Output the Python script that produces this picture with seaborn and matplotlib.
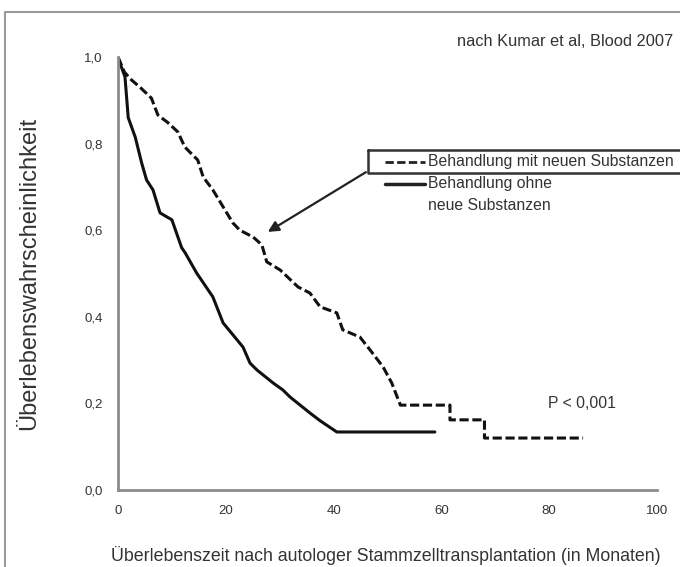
import matplotlib
matplotlib.use("Agg")
import matplotlib.pyplot as plt
import seaborn as sns
import pandas as pd
from matplotlib.lines import Line2D

# Kaplan-Meier Kurven (Eckpunkte)
time_new = [0, 1.2, 2.5, 4.1, 6.2, 7.4, 9.3, 11.1, 12.4, 14.8, 15.8, 17.6, 19.5,
            21.3, 22.6, 25.1, 26.7, 27.6, 30.1, 33.4, 35.6, 37.5, 40.6, 41.7,
            44.9, 46.8, 49.2, 50.8, 51.8, 52.4, 61.6, 61.6, 68.0, 68.0, 86.3]
surv_new = [1.0, 0.965, 0.947, 0.93, 0.905, 0.866, 0.848, 0.827, 0.792, 0.762,
            0.723, 0.693, 0.654, 0.617, 0.60, 0.584, 0.566, 0.527, 0.508, 0.469,
            0.455, 0.423, 0.409, 0.37, 0.353, 0.323, 0.284, 0.247, 0.215, 0.196,
            0.196, 0.162, 0.162, 0.12, 0.12]

time_old = [0, 0.4, 1.3, 1.9, 3.2, 4.4, 5.3, 6.5, 7.8, 10.0, 11.8, 12.5, 14.6,
            17.6, 19.5, 23.2, 24.5, 25.8, 28.8, 30.6, 31.9, 35.6, 37.5, 40.6, 58.8]
surv_old = [1.0, 0.985, 0.954, 0.86, 0.815, 0.755, 0.716, 0.693, 0.64, 0.624,
            0.56, 0.547, 0.501, 0.446, 0.386, 0.33, 0.293, 0.277, 0.247, 0.231,
            0.215, 0.178, 0.16, 0.134, 0.134]

y_ticks = [0.0, 0.2, 0.4, 0.6, 0.8, 1.0]
y_ticklabels = ["0,0", "0,2", "0,4", "0,6", "0,8", "1,0"]
x_ticks = [0, 20, 40, 60, 80, 100]

df_new = pd.DataFrame({"t": time_new, "s": surv_new})
df_old = pd.DataFrame({"t": time_old, "s": surv_old})

sns.set_style("white")
plt.rcParams["font.family"] = ["Liberation Sans", "DejaVu Sans"]

txt = "#333333"
axis_col = "#8c8c8c"

fig = plt.figure(figsize=(6.8, 5.67), dpi=100)
ax = fig.add_axes([0.1735, 0.1358, 0.7926, 0.7637])

sns.lineplot(data=df_new, x="t", y="s", ax=ax, color="#111111", lw=2.2,
             linestyle=(0, (3, 1.2)), sort=False, estimator=None)
sns.lineplot(data=df_old, x="t", y="s", ax=ax, color="#111111", lw=2.2,
             sort=False, estimator=None)

ax.set_xlim(0, 100)
ax.set_ylim(0, 1.0)
ax.set_xticks(x_ticks)
ax.set_xticklabels([str(v) for v in x_ticks])
ax.set_yticks(y_ticks)
ax.set_yticklabels(y_ticklabels)
ax.tick_params(axis="both", direction="out", length=6, width=1.5, color=axis_col,
               labelsize=9.5, labelcolor=txt, pad=5)
for side in ["top", "right"]:
    ax.spines[side].set_visible(False)
for side in ["left", "bottom"]:
    ax.spines[side].set_color(axis_col)
    ax.spines[side].set_linewidth(2)

ax.set_xlabel("Überlebenszeit nach autologer Stammzelltransplantation (in Monaten)",
              fontsize=12.8, color=txt)
ax.set_ylabel("Überlebenswahrscheinlichkeit", fontsize=17, color=txt)
ax.xaxis.set_label_coords(0.497, -0.129)
ax.yaxis.set_label_coords(-0.145, 0.5)

ax.text(86, 0.2, "P < 0,001", fontsize=11.3, color=txt, ha="center", va="center")

# Pfeil von der Legende zur Kurve
ax.annotate("", xy=(27.8, 0.596), xytext=(46.0, 0.734),
            arrowprops=dict(arrowstyle="-|>", color="#222222", lw=1.6,
                            mutation_scale=16, shrinkA=0, shrinkB=0))

# Legende (manuell)
fig.add_artist(Line2D([0.541, 1.01, 1.01, 0.541, 0.541],
                      [0.7354, 0.7354, 0.6949, 0.6949, 0.7354],
                      transform=fig.transFigure, color="#333333", lw=1.8))
fig.add_artist(Line2D([0.566, 0.625], [0.7143, 0.7143], transform=fig.transFigure,
                      color="#222222", lw=2, linestyle=(0, (3, 1.2))))
fig.add_artist(Line2D([0.566, 0.625], [0.6755, 0.6755], transform=fig.transFigure,
                      color="#222222", lw=2.5))
fig.text(0.630, 0.7143, "Behandlung mit neuen Substanzen", fontsize=11.3,
         color=txt, va="center")
fig.text(0.630, 0.6755, "Behandlung ohne", fontsize=11.3, color=txt, va="center")
fig.text(0.630, 0.638, "neue Substanzen", fontsize=11.3, color=txt, va="center")

fig.text(0.99, 0.926, "nach Kumar et al, Blood 2007", fontsize=11.8, color="#333333",
         ha="right", va="center")

# Rahmen
fig.add_artist(Line2D([0.0074, 0.0074, 1.0], [0.0, 0.979, 0.979],
                      transform=fig.transFigure, color="#9a9a9a", lw=1.5))

fig.savefig("out.png", dpi=100)
